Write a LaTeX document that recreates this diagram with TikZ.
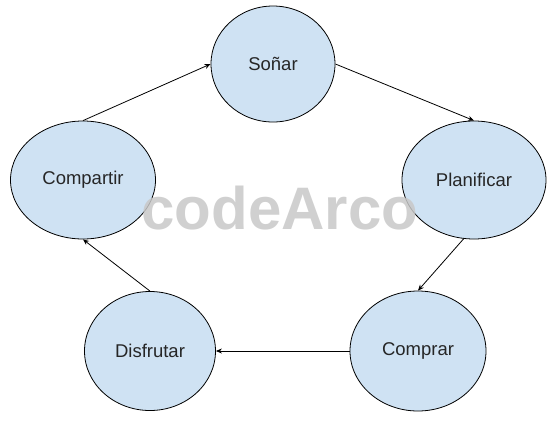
\documentclass[tikz,border=0pt]{standalone}
\usepackage{fontspec}
\setmainfont{Liberation Sans}
\usepackage{xcolor}
\usetikzlibrary{shapes.geometric,arrows.meta}
\definecolor{fondo}{RGB}{207,226,243}
\definecolor{marca}{RGB}{200,200,200}

\begin{document}
\begin{tikzpicture}[x=1pt,y=-1pt,
		etapa/.style={ellipse, draw, line width=0.8pt, fill=fondo, inner sep=0pt, text=black!85, font=\fontsize{18.5}{20}\selectfont},
		flecha/.style={-{Stealth[length=6pt,width=5pt]}, line width=0.8pt}]
		\useasboundingbox (0,0) rectangle (557,421);
		\node[etapa, minimum width=124pt, minimum height=116pt] (sonar) at (273,64) {Soñar};
		\node[etapa, minimum width=144pt, minimum height=118pt] (planificar) at (474,180) {Planificar};
		\node[etapa, minimum width=136pt, minimum height=120pt] (comprar) at (418,351) {Comprar};
		\node[etapa, minimum width=131pt, minimum height=119pt] (disfrutar) at (150,351) {Disfrutar};
		\node[etapa, minimum width=145pt, minimum height=118pt] (compartir) at (83,180) {Compartir};
		\draw[flecha] (sonar.east) -- (planificar.north);
		\draw[flecha] (planificar.260) -- (comprar.north);
		\draw[flecha] (comprar.west) -- (disfrutar.east);
		\draw[flecha] (disfrutar.north) -- (compartir.south);
		\draw[flecha] (compartir.north) -- (sonar.west);
		\node[anchor=base, text=marca, opacity=0.85, font=\fontsize{60}{62}\selectfont\bfseries] (sello) at (280,229) {codeArco};
\end{tikzpicture}
\end{document}
